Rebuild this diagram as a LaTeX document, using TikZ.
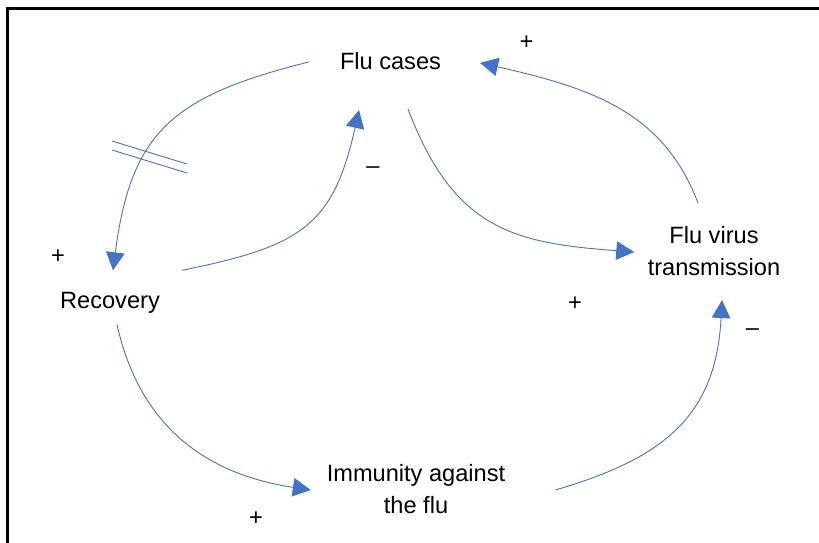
\documentclass[tikz,border=0pt]{standalone}
\usepackage{fontspec}
\setmainfont{Liberation Sans}
\usetikzlibrary{arrows.meta,calc}

\definecolor{loopblue}{HTML}{4472C4}

\begin{document}
\begin{tikzpicture}[x=1pt, y=-1pt,
  every node/.style={font=\fontsize{23.6}{32}\selectfont, inner sep=0pt, outer sep=0pt},
  var/.style={align=center},
  sgn/.style={anchor=base},
  link/.style={draw=loopblue, line width=0.9pt, -{Triangle[length=18pt,width=18.5pt]}}]
  \useasboundingbox (0,0) rectangle (819,542);
  \clip (0,0) rectangle (819,542);
  % frame
  \draw[line width=3pt] (7.5,8) rectangle (840,560);

  % variables
  \node[var] (cases) at (390.5,60.9) {Flu cases};
  \node[var] (trans) at (714,251.4) {Flu virus\\transmission};
  \node[var] (recov) at (110,302.5) {Recovery};
  \node[var] (immun) at (416,489.4) {Immunity against\\the flu};

  % causal links
  \draw[link] ($(cases.west)+(-31,1)$) .. controls +(-136,34) and +(18,-139) .. ($(recov.north)+(3,-21.6)$);
  \draw[link] ($(recov.north east)+(22,-21.6)$) .. controls +(118,-24) and +(-26,117) .. ($(cases.south)+(-31.5,40.5)$);
  \draw[link] ($(cases.south)+(17.5,39.5)$) .. controls +(46,121) and +(-120,-9) .. ($(trans.west)+(-13.5,0.6)$);
  \draw[link] ($(trans.north)+(-16,-23.8)$) .. controls +(-34,-89) and +(116,26) .. ($(cases.east)+(39,2)$);
  \draw[link] ($(recov.south)+(7,11.6)$) .. controls +(24,107) and +(-99,-15) .. ($(immun.west)+(-16,0.6)$);
  \draw[link] ($(immun.east)+(50,0.6)$) .. controls +(110,-32) and +(-6,115) .. ($(trans.south)+(8,24)$);

  % delay mark
  \draw[loopblue, line width=0.9pt] (112,141) -- (187,164) (112,150) -- (187,173);

  % polarities
  \node[sgn] (p1) at (526.5,49.6) {+};
  \node[sgn] (p2) at (373,173.4) {\textendash};
  \node[sgn] (p3) at (58,263.3) {+};
  \node[sgn] (p4) at (575,310.8) {+};
  \node[sgn] (p5) at (752.5,335.1) {\textendash};
  \node[sgn] (p6) at (256,525.8) {+};
\end{tikzpicture}
\end{document}
